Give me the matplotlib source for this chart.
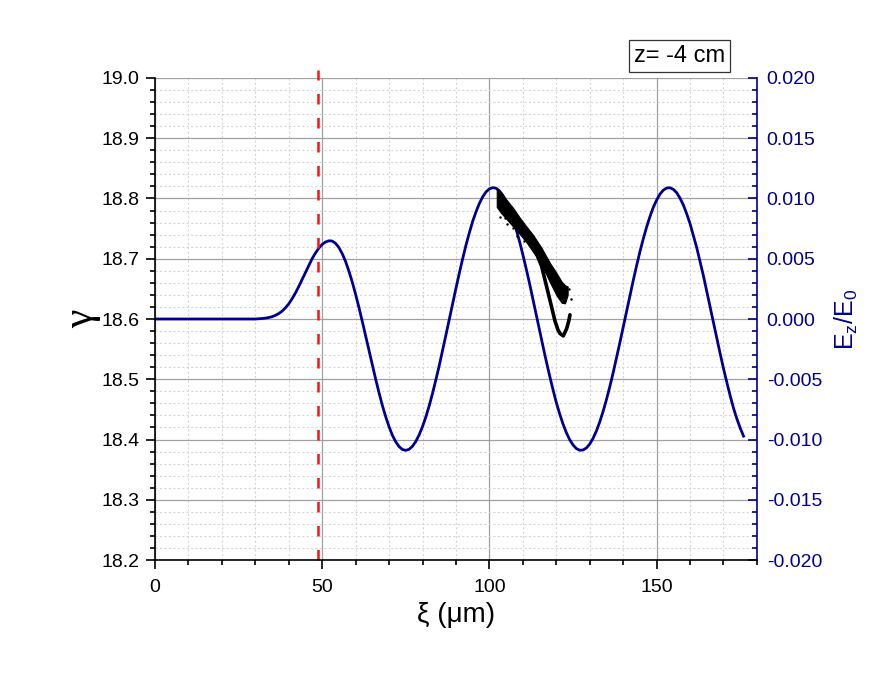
import matplotlib
matplotlib.use('Agg')
import matplotlib.pyplot as plt
import numpy as np
from matplotlib.ticker import MultipleLocator, FormatStrFormatter

plt.rcParams['font.family'] = ['Liberation Sans', 'DejaVu Sans']
plt.rcParams['mathtext.fontset'] = 'custom'
plt.rcParams['mathtext.rm'] = 'Liberation Sans'
plt.rcParams['mathtext.it'] = 'Liberation Sans:italic'

navy = '#00008f'

# longitudinal field on axis (xi in um, Ez/E0), 1 um steps
xi = np.arange(0, 177, 1)
ez = [0] * 30 + [
    0.00000, 0.00002, 0.00004, 0.00007, 0.00012, 0.00019, 0.00030, 0.00045, 0.00065, 0.00092,
    0.00126, 0.00168, 0.00216, 0.00270, 0.00328, 0.00388, 0.00446, 0.00501, 0.00548, 0.00588,
    0.00619, 0.00639, 0.00649, 0.00647, 0.00628, 0.00593, 0.00542, 0.00477, 0.00397, 0.00306,
    0.00204, 0.00095, -0.00021, -0.00141, -0.00263, -0.00383, -0.00500, -0.00612, -0.00718, -0.00811,
    -0.00894, -0.00965, -0.01019, -0.01059, -0.01083, -0.01090, -0.01081, -0.01056, -0.01016, -0.00961,
    -0.00893, -0.00812, -0.00720, -0.00617, -0.00504, -0.00387, -0.00262, -0.00133, -0.00003, 0.00127,
    0.00255, 0.00380, 0.00499, 0.00613, 0.00715, 0.00810, 0.00890, 0.00959, 0.01014, 0.01055,
    0.01080, 0.01090, 0.01085, 0.01063, 0.01027, 0.00977, 0.00912, 0.00835, 0.00745, 0.00645,
    0.00535, 0.00418, 0.00296, 0.00166, 0.00036, -0.00094, -0.00223, -0.00349, -0.00470, -0.00584,
    -0.00692, -0.00786, -0.00870, -0.00942, -0.01001, -0.01045, -0.01075, -0.01089, -0.01087, -0.01070,
    -0.01038, -0.00990, -0.00929, -0.00854, -0.00767, -0.00669, -0.00562, -0.00447, -0.00324, -0.00198,
    -0.00068, 0.00062, 0.00191, 0.00318, 0.00440, 0.00557, 0.00664, 0.00762, 0.00849, 0.00926,
    0.00987, 0.01036, 0.01069, 0.01087, 0.01089, 0.01076, 0.01048, 0.01003, 0.00946, 0.00873,
    0.00791, 0.00693, 0.00592, 0.00474, 0.00358, 0.00230, 0.00101, -0.00029, -0.00160, -0.00287,
    -0.00411, -0.00526, -0.00637, -0.00740, -0.00828, -0.00905, -0.00972]

# electron bunch, main band (edges of the dense cloud)
band_xi = [102.2, 103.5, 105.1, 107.0, 109.1, 111.0, 113.0, 115.6, 117.1, 118.1, 120.1, 121.6, 122.6, 123.4]
band_top = [18.817, 18.810, 18.798, 18.785, 18.768, 18.754, 18.740, 18.718, 18.703, 18.693, 18.676, 18.662, 18.656, 18.654]
band_bot = [18.786, 18.776, 18.766, 18.754, 18.741, 18.728, 18.712, 18.690, 18.673, 18.661, 18.639, 18.627, 18.626, 18.640]

# thin lower branch of the bunch
branch_xi = [114.5, 115.6, 117.1, 118.6, 119.6, 120.5, 121.1, 122.1, 123.1, 123.7, 124.1]
branch_g = [18.703, 18.688, 18.654, 18.620, 18.597, 18.582, 18.576, 18.572, 18.584, 18.596, 18.607]

# a few stray particles
spk_xi = [103.1, 104.6, 105.2, 107.1, 108.3, 110.2, 123.9, 124.3]
spk_g = [18.770, 18.768, 18.758, 18.751, 18.737, 18.730, 18.650, 18.634]

xi_mark = 48.8
label = 'z= -4 cm'

fig = plt.figure(figsize=(8.82, 6.74), dpi=100)
ax = fig.add_axes([0.1757, 0.1691, 0.6825, 0.7152])
ax2 = ax.twinx()

# field curve and grid on the twin axis, bunch on top
ax2.plot(xi, ez, color=navy, lw=2.0, zorder=3)
ax2.set_ylim(-0.02, 0.02)
ax2.yaxis.set_major_locator(MultipleLocator(0.005))
ax2.yaxis.set_minor_locator(MultipleLocator(0.001))
ax2.yaxis.set_major_formatter(FormatStrFormatter('%.3f'))
ax2.xaxis.set_visible(True)
ax2.xaxis.set_major_locator(MultipleLocator(50))
ax2.xaxis.set_minor_locator(MultipleLocator(10))
ax2.tick_params(axis='x', which='both', bottom=False, top=False,
                labelbottom=False, labeltop=False)
ax2.grid(which='major', color='#a0a0a0', lw=0.9, ls='-', zorder=0)
ax2.grid(which='minor', color='#d6d6d6', lw=0.8, ls=(0, (2, 2)), zorder=0)
ax2.set_axisbelow(True)
ax2.tick_params(axis='y', which='both', direction='in', colors=navy, labelsize=14, pad=7)
ax2.tick_params(axis='y', which='major', length=6.5, width=1.2)
ax2.tick_params(axis='y', which='minor', length=3.5, width=1.2)
ax2.set_ylabel(r'$\mathrm{E_z/E_0}$', color=navy, fontsize=18, va='center')
ax2.yaxis.set_label_coords(1.149, 0.5)

ax.set_zorder(ax2.get_zorder() + 1)
ax.patch.set_visible(False)
ax.fill_between(band_xi, band_bot, band_top, color='black', lw=0.8, edgecolor='black')
ax.plot(branch_xi, branch_g, color='black', lw=2.6, solid_capstyle='round')
ax.plot(spk_xi, spk_g, ls='none', marker='.', ms=1.5, color='black')
ax.axvline(xi_mark, ymin=0, ymax=1.016, color='#ff1010', lw=1.8,
           ls=(0, (4.2, 5.4)), clip_on=False)

ax.set_xlim(0, 180)
ax.set_ylim(18.2, 19.0)
ax.xaxis.set_major_locator(MultipleLocator(50))
ax.xaxis.set_minor_locator(MultipleLocator(10))
ax.yaxis.set_major_locator(MultipleLocator(0.1))
ax.yaxis.set_minor_locator(MultipleLocator(0.02))
ax.yaxis.set_major_formatter(FormatStrFormatter('%.1f'))
ax.tick_params(which='both', direction='out', width=1.2, labelsize=14)
ax.tick_params(which='major', length=6.5)
ax.tick_params(which='minor', length=3.5)
ax.tick_params(axis='x', pad=7.5)
ax.tick_params(axis='y', pad=4.5)
ax.set_xlabel('ξ (μm)', fontsize=20)
ax.xaxis.set_label_coords(0.5, -0.087)
ax.set_ylabel('γ', fontsize=30, family=['Liberation Serif', 'DejaVu Serif'], va='center')
ax.yaxis.set_label_coords(-0.122, 0.5)

for a in (ax, ax2):
    a.spines['top'].set_visible(False)
ax.spines['left'].set_linewidth(1.2)
ax.spines['bottom'].set_linewidth(1.2)
ax.spines['right'].set_visible(False)
ax2.spines['left'].set_visible(False)
ax2.spines['bottom'].set_visible(False)
ax2.spines['right'].set_color(navy)
ax2.spines['right'].set_linewidth(1.2)

fig.text(0.7704, 0.9165, label, fontsize=17, ha='center', va='center',
         bbox=dict(boxstyle='square,pad=0.22', fc='white', ec='#333333', lw=0.9))

fig.savefig('out.png', dpi=100)
